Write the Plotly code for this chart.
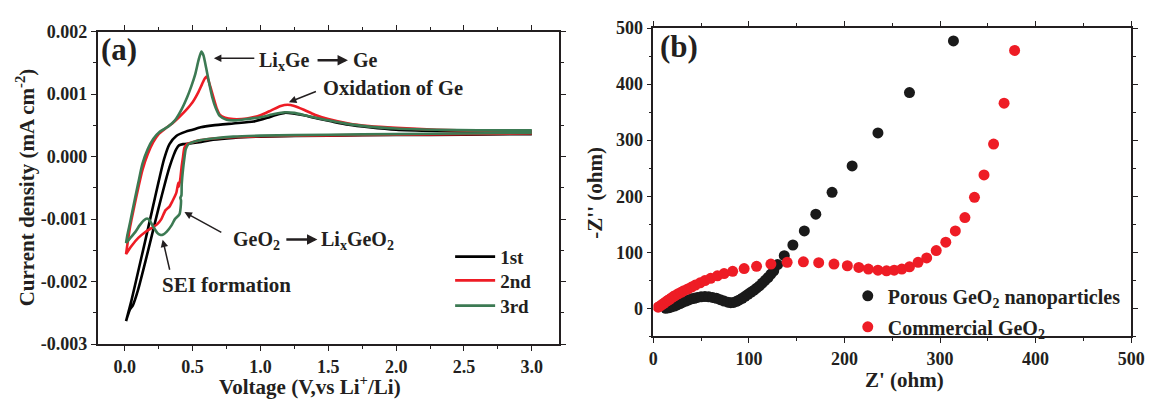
import plotly.graph_objects as go
import numpy as np

# ---------------- Panel (a): cyclic voltammetry (current in units of 1e-3) ----------------
c1_cath_v = [3.0, 2.5, 2.0, 1.5, 1.0, 0.8, 0.65, 0.55, 0.48, 0.43, 0.40, 0.38, 0.36, 0.33, 0.30, 0.25, 0.20, 0.15, 0.10, 0.06, 0.04, 0.02, 0.01]
c1_cath_i = [0.36, 0.35, 0.345, 0.335, 0.32, 0.30, 0.27, 0.23, 0.21, 0.20, 0.18, 0.12, 0.02, -0.17, -0.40, -0.82, -1.26, -1.70, -2.12, -2.38, -2.44, -2.56, -2.63]
c1_anod_v = [0.01, 0.05, 0.10, 0.15, 0.20, 0.25, 0.29, 0.33, 0.38, 0.45, 0.50, 0.56, 0.65, 0.80, 0.95, 1.05, 1.12, 1.18, 1.24, 1.32, 1.42, 1.53, 1.65, 1.80, 2.0, 2.3, 2.6, 3.0]
c1_anod_i = [-2.63, -2.30, -1.83, -1.36, -0.88, -0.40, -0.04, 0.20, 0.33, 0.40, 0.43, 0.47, 0.50, 0.53, 0.56, 0.62, 0.67, 0.70, 0.69, 0.66, 0.61, 0.56, 0.51, 0.47, 0.43, 0.41, 0.40, 0.40]

c2_cath_v = [3.0, 2.5, 2.0, 1.5, 1.0, 0.8, 0.65, 0.55, 0.50, 0.46, 0.44, 0.43, 0.42, 0.41, 0.40, 0.395, 0.38, 0.35, 0.33, 0.30, 0.27, 0.24, 0.20, 0.15, 0.10, 0.05, 0.01]
c2_cath_i = [0.37, 0.36, 0.35, 0.34, 0.325, 0.31, 0.29, 0.26, 0.23, 0.20, 0.14, 0.0, -0.15, -0.35, -0.48, -0.42, -0.58, -0.72, -0.80, -0.86, -1.00, -1.08, -1.14, -1.21, -1.30, -1.43, -1.56]
c2_anod_v = [0.01, 0.02, 0.04, 0.07, 0.10, 0.13, 0.17, 0.21, 0.25, 0.30, 0.35, 0.40, 0.45, 0.50, 0.54, 0.57, 0.59, 0.605, 0.62, 0.64, 0.66, 0.68, 0.70, 0.74, 0.80, 0.90, 1.0, 1.08, 1.15, 1.20, 1.25, 1.32, 1.40, 1.50, 1.65, 1.80, 2.0, 2.3, 2.6, 3.0]
c2_anod_i = [-1.56, -1.40, -1.12, -0.80, -0.50, -0.22, 0.04, 0.23, 0.36, 0.45, 0.53, 0.63, 0.74, 0.87, 1.02, 1.16, 1.25, 1.28, 1.20, 1.05, 0.90, 0.76, 0.67, 0.62, 0.60, 0.61, 0.66, 0.74, 0.81, 0.83, 0.81, 0.75, 0.67, 0.60, 0.53, 0.49, 0.46, 0.43, 0.41, 0.40]

c3_cath_v = [3.0, 2.5, 2.0, 1.5, 1.0, 0.8, 0.65, 0.55, 0.50, 0.47, 0.45, 0.44, 0.43, 0.42, 0.418, 0.41, 0.415, 0.404, 0.37, 0.345, 0.31, 0.28, 0.26, 0.24, 0.21, 0.18, 0.165, 0.14, 0.11, 0.08, 0.05, 0.01]
c3_cath_i = [0.38, 0.37, 0.36, 0.35, 0.335, 0.32, 0.29, 0.26, 0.23, 0.20, 0.12, -0.02, -0.20, -0.45, -0.62, -0.66, -0.70, -0.92, -1.00, -1.10, -1.20, -1.25, -1.25, -1.22, -1.12, -1.01, -0.99, -1.02, -1.10, -1.20, -1.28, -1.38]
c3_anod_v = [0.01, 0.02, 0.04, 0.07, 0.10, 0.13, 0.17, 0.21, 0.26, 0.32, 0.37, 0.42, 0.46, 0.49, 0.52, 0.545, 0.565, 0.58, 0.60, 0.62, 0.645, 0.67, 0.70, 0.75, 0.82, 0.90, 1.0, 1.1, 1.18, 1.25, 1.35, 1.5, 1.65, 1.8, 2.0, 2.3, 2.6, 3.0]
c3_anod_i = [-1.38, -1.25, -1.05, -0.73, -0.42, -0.12, 0.12, 0.28, 0.40, 0.48, 0.58, 0.76, 0.95, 1.12, 1.32, 1.55, 1.68, 1.62, 1.42, 1.20, 0.95, 0.78, 0.65, 0.59, 0.58, 0.60, 0.63, 0.68, 0.71, 0.70, 0.65, 0.58, 0.52, 0.48, 0.45, 0.43, 0.42, 0.42]

cycle_names = ["1st", "2nd", "3rd"]
cycle_colors = ["#000000", "#ee1c25", "#3c7a53"]

# ---------------- Panel (b): Nyquist plot ----------------
porous_zre = [13, 16, 19, 22, 25, 28, 31, 34, 37, 40, 43, 46, 50, 54, 58, 62, 66, 70, 74, 78, 81, 84, 87, 90, 93, 96, 99, 102, 105, 108, 111, 114, 117, 120, 123, 126, 130, 137, 146, 158, 170, 187, 208, 235, 268, 314]
porous_zim = [0, 1, 2.5, 4, 6, 8.5, 11, 13, 15, 17, 18, 19.5, 20.5, 21, 20.5, 19.5, 18, 15.5, 13, 11, 10, 10.5, 12.5, 15, 18, 21.5, 25, 28.5, 32, 36, 40, 45, 50, 55, 61, 67, 78, 94, 113, 138, 168, 207, 254, 313, 385, 477]

comm_zre = [5, 7, 9, 11, 13, 15, 17, 19, 21, 23, 26, 29, 32, 36, 40, 44, 49, 54, 60, 67, 74, 83, 95, 108, 123, 140, 157, 173, 189, 203, 215, 225, 235, 244, 252, 260, 268, 277, 286, 296, 306, 316, 326, 336, 346, 356, 367, 378]
comm_zim = [2, 4, 6.5, 9, 11.5, 14, 16, 18.5, 21, 23, 26, 28.5, 31.5, 34.5, 38, 41.5, 45.5, 49.5, 53.5, 58, 62, 66, 71, 75, 79, 82, 83, 81.5, 79, 76, 73, 70, 68, 67, 68, 70, 74, 82, 90, 103, 118, 138, 162, 198, 238, 293, 366, 460]

left_yticks = [-0.003, -0.002, -0.001, 0.000, 0.001, 0.002]
left_yticktext = ["-0.003", "-0.002", "-0.001", "0.000", "0.001", "0.002"]

FONT = "Liberation Serif"
TXT = "#231f20"

fig = go.Figure()

cycles = [
    (c1_cath_v, c1_cath_i, c1_anod_v, c1_anod_i),
    (c2_cath_v, c2_cath_i, c2_anod_v, c2_anod_i),
    (c3_cath_v, c3_cath_i, c3_anod_v, c3_anod_i),
]
cycle_legends = ["legend", "legend3", "legend4"]
for (cv, ci, av, ai), name, col, lg in zip(cycles, cycle_names, cycle_colors, cycle_legends):
    v = list(cv) + list(av)
    i = (np.array(list(ci) + list(ai)) * 1e-3).tolist()
    fig.add_trace(go.Scatter(x=v, y=i, mode="lines", name=name, showlegend=True,
                             line=dict(color=col, width=2.6, shape="spline", smoothing=0.6),
                             xaxis="x", yaxis="y", legend=lg))

fig.add_trace(go.Scatter(x=porous_zre, y=porous_zim, mode="markers", showlegend=True,
                         name="Porous GeO<sub>2</sub> nanoparticles",
                         marker=dict(color="#1a1a1a", size=11),
                         xaxis="x2", yaxis="y2", legend="legend2"))
fig.add_trace(go.Scatter(x=comm_zre, y=comm_zim, mode="markers", showlegend=True,
                         name="Commercial GeO<sub>2</sub>",
                         marker=dict(color="#ee1c25", size=11),
                         xaxis="x2", yaxis="y2", legend="legend5"))

axis_common = dict(showline=True, linecolor="#231f20", linewidth=1.5, mirror="ticks",
                   ticks="outside", ticklen=5, tickwidth=1.2, tickcolor="#231f20",
                   showgrid=False, zeroline=False,
                   tickfont=dict(family=FONT, size=18, color=TXT, weight="bold"))

def leg(x, y, size, iw=30):
    return dict(x=x, y=y, xanchor="left", yanchor="top", bgcolor="rgba(0,0,0,0)",
                itemwidth=iw, font=dict(family=FONT, size=size, color=TXT, weight="bold"))

fig.update_layout(
    width=1158, height=401,
    margin=dict(l=0, r=0, t=0, b=0),
    paper_bgcolor="white", plot_bgcolor="white",
    showlegend=True,
    font=dict(family=FONT, color=TXT),
    xaxis=dict(domain=[0.0820, 0.4864], anchor="y", range=[-0.2, 3.2],
               dtick=0.5, tick0=0, tickformat=".1f",
               minor=dict(dtick=0.25, ticks="outside", ticklen=3, tickcolor="#231f20"),
               **axis_common),
    yaxis=dict(domain=[0.1229, 0.9434], anchor="x", range=[-0.003, 0.002],
               tickvals=left_yticks, ticktext=left_yticktext,
               minor=dict(dtick=0.0005, ticks="outside", ticklen=3, tickcolor="#231f20"),
               **axis_common),
    xaxis2=dict(domain=[0.5691, 0.9879], anchor="y2", range=[0, 500],
                dtick=100, tick0=0,
                minor=dict(dtick=50, ticks="outside", ticklen=3, tickcolor="#231f20"),
                **axis_common),
    yaxis2=dict(domain=[0.1434, 0.9526], anchor="x2", range=[-50, 500],
                dtick=100, tick0=0,
                minor=dict(dtick=50, ticks="outside", ticklen=3, tickcolor="#231f20"),
                **axis_common),
    legend=leg(0.391, 0.4022, 19, 40),
    legend3=leg(0.391, 0.3399, 19, 40),
    legend4=leg(0.391, 0.2736, 19, 40),
    legend2=leg(0.7395, 0.301, 20),
    legend5=leg(0.7395, 0.2195, 20),
)

def txt(x, y, s, size=20, xref="x", yref="y", xanchor="left", angle=0, yanchor="middle", yshift=0):
    fig.add_annotation(x=x, y=y, xref=xref, yref=yref, text="<b>" + s + "</b>",
                       showarrow=False, xanchor=xanchor, yanchor=yanchor, textangle=angle,
                       yshift=yshift, font=dict(family=FONT, size=size, color=TXT))

def arrow(x0, y0, x1, y1, width=1.5, size=1.0, head=2):
    fig.add_annotation(x=x1, y=y1, ax=x0, ay=y0, xref="x", yref="y", axref="x", ayref="y",
                       text="", showarrow=True, arrowhead=head, arrowsize=size,
                       arrowwidth=width, arrowcolor=TXT)

# panel (a) annotations
txt(0.976, 0.00152, "Li<sub>x</sub>Ge")
arrow(0.966, 0.001575, 0.657, 0.001575)
arrow(1.41, 0.00154, 1.645, 0.00154, width=2.6, size=0.8)
txt(1.667, 0.00154, "Ge")
txt(1.45, 0.00110, "Oxidation of Ge", size=20.5)
arrow(1.42, 0.00105, 1.21, 0.00087)
txt(0.781, -0.00134, "GeO<sub>2</sub>")
arrow(1.18, -0.001325, 1.42, -0.001325, width=2.6, size=0.8)
txt(1.435, -0.00134, "Li<sub>x</sub>GeO<sub>2</sub>")
arrow(0.723, -0.001226, 0.44, -0.000888)
txt(0.26, -0.00206, "SEI formation", size=21)
arrow(0.334, -0.001834, 0.28, -0.001328)

# panel labels
txt(0.101, 0.897, "(a)", size=31, xref="paper", yref="paper", xanchor="center")
txt(0.5915, 0.905, "(b)", size=31, xref="paper", yref="paper", xanchor="center")

# axis titles
txt(0.2686, 0.0299, "Voltage (V,vs Li<sup>+</sup>/Li)", size=21, xref="paper", yref="paper", xanchor="center", yshift=-6)
txt(0.019, 0.5337, "Current density (mA cm<sup>-2</sup>)", size=21, xref="paper", yref="paper", xanchor="center", angle=-90)
txt(0.7893, 0.0474, "Z' (ohm)", size=21, xref="paper", yref="paper", xanchor="center", yshift=-7)
txt(0.5181, 0.521, "-Z'' (ohm)", size=21, xref="paper", yref="paper", xanchor="center", angle=-90)

fig.write_html("out.html")
